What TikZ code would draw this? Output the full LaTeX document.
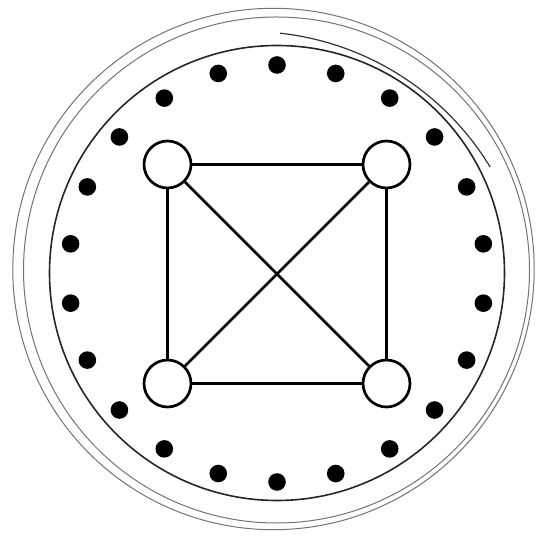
\documentclass[tikz,border=0pt]{standalone}
\begin{document}
\begin{tikzpicture}[x=1pt,y=1pt,
  ring/.style={draw=black!55, line width=1pt},
  rim/.style={draw=black!85, line width=1.6pt},
  scratch/.style={draw=black!80, line width=1.2pt},
  vertex/.style={circle, draw=black, line width=2.7pt, fill=white, inner sep=0pt, minimum size=47pt},
  dot/.style={circle, fill=black, inner sep=0pt, minimum size=17.6pt},
  edge/.style={draw=black, line width=2.4pt}]
\useasboundingbox (0,0) rectangle (536,540);
% outer double ring
\draw[ring] (273.5,271) circle (260.7);
\draw[ring] (276.5,270) circle (253);
% inner rim
\draw[rim] (277,267) circle (227.5);
% arc in upper right
\draw[scratch] ([shift={(249.2,226.5)}]83.7:282) arc[start angle=83.7, end angle=31.3, radius=282];
% dots
\foreach \i in {0,...,21}
  \node[dot] (d\i) at ([shift={(277,266.5)}]90+\i*360/22:208.5) {};
% vertices
\node[vertex] (tl) at (167.5,375.5) {};
\node[vertex] (tr) at (386.5,375.5) {};
\node[vertex] (bl) at (167.5,156.5) {};
\node[vertex] (br) at (386.5,156.5) {};
% edges
\path[edge] (tl) -- (tr);
\path[edge] (bl) -- (br);
\path[edge] (tl) -- (bl);
\path[edge] (tr) -- (br);
\path[edge, line width=2.7pt] (tl) -- (br);
\path[edge, line width=2.7pt] (tr) -- (bl);
\end{tikzpicture}
\end{document}
